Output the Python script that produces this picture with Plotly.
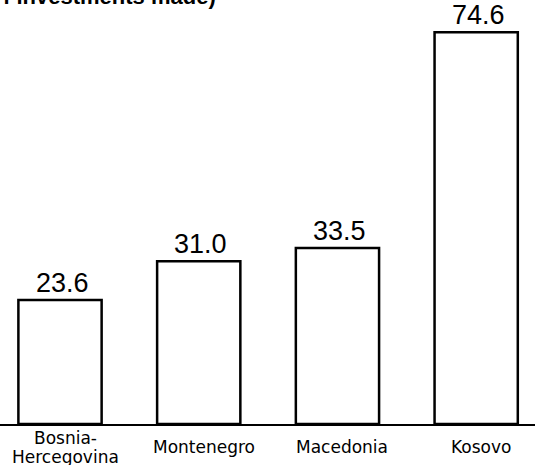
import plotly.graph_objects as go

categories = ["Bosnia-<br>Hercegovina", "Montenegro", "Macedonia", "Kosovo"]
values = [23.6, 31.0, 33.5, 74.6]
value_labels = ["23.6", "31.0", "33.5", "74.6"]
title_fragment = "f investments made)"

xs = list(range(len(categories)))
VAL_FONT = "Liberation Sans, Arial, Helvetica, sans-serif"
LAB_FONT = "DejaVu Sans, sans-serif"

fig = go.Figure()
fig.add_trace(go.Bar(
    x=xs, y=values, width=0.6,
    marker=dict(color="white", line=dict(color="black", width=2.5)),
    hoverinfo="skip",
))

annotations = []
for x, v, lab in zip(xs, values, value_labels):
    annotations.append(dict(x=x, y=v, xref="x", yref="y", text=lab, showarrow=False,
                            yanchor="bottom", yshift=0, xshift=2,
                            font=dict(family=VAL_FONT, size=27, color="black")))
for x, c in zip(xs, categories):
    lines = c.split("<br>")
    if len(lines) == 1:
        shifts = [-23]
    else:
        shifts = [-14, -32.5]
    for line, s in zip(lines, shifts):
        annotations.append(dict(x=x, y=0, xref="x", yref="y", text=line, showarrow=False,
                                yanchor="middle", yshift=s, xshift=5,
                                font=dict(family=LAB_FONT, size=17, color="black")))
annotations.append(dict(x=218 / 535, y=1, xref="paper", yref="paper", text="<b>" + title_fragment + "</b>",
                        showarrow=False, xanchor="right", yanchor="bottom", yshift=-11,
                        font=dict(family=VAL_FONT, size=22, color="black")))

fig.update_layout(
    width=535, height=465,
    margin=dict(l=0, r=0, t=0, b=41, pad=0),
    paper_bgcolor="white", plot_bgcolor="white",
    showlegend=False,
    annotations=annotations,
    xaxis=dict(range=[-0.4326, 3.424], showgrid=False, zeroline=False, showticklabels=False,
               showline=True, linecolor="black", linewidth=2, ticks=""),
    yaxis=dict(range=[0, 80.76], visible=False, showgrid=False, zeroline=False),
)
fig.write_html("out.html", config={"displayModeBar": False},
               post_script="document.body.style.margin='0';document.body.style.padding='0';")
